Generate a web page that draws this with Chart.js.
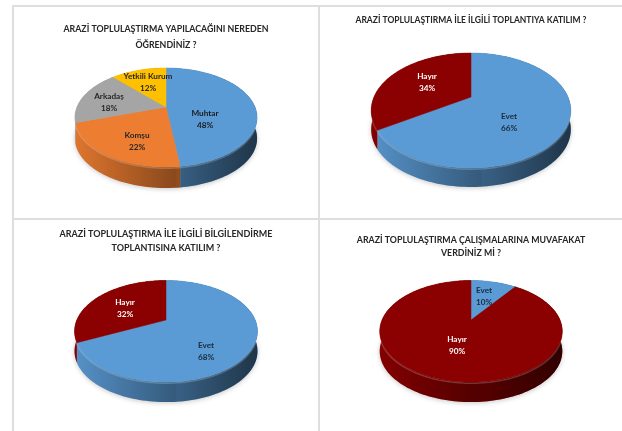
<!DOCTYPE html>
<html>
<head>
<meta charset="utf-8">
<script src="https://cdn.jsdelivr.net/npm/chart.js@4"></script>
<style>
  body { margin: 0; background: #fff; width: 622px; height: 431px; overflow: hidden; position: relative; }
  canvas { position: absolute; filter: blur(0.45px); }
  .rule { position: absolute; background: #dedede; }
</style>
</head>
<body>
<div class="rule" style="left:12px;top:5px;width:610px;height:2px"></div>
<div class="rule" style="left:12px;top:218px;width:610px;height:2px"></div>
<div class="rule" style="left:12px;top:5px;width:2px;height:426px"></div>
<div class="rule" style="left:318px;top:5px;width:2px;height:426px"></div>
<canvas id="pie1" width="304" height="211" style="left:14px;top:7px"></canvas>
<canvas id="pie2" width="302" height="211" style="left:320px;top:7px"></canvas>
<canvas id="pie3" width="304" height="211" style="left:14px;top:220px"></canvas>
<canvas id="pie4" width="302" height="211" style="left:320px;top:220px"></canvas>
<script>
const blue = '#5B9BD5';
const orange = '#ED7D31';
const grey = '#A5A5A5';
const yellow = '#FFC000';
const darkRed = '#8B0000';

const sourceLabels = ['Muhtar', 'Komşu', 'Arkadaş', 'Yetkili Kurum'];
const sourceValues = [48, 22, 18, 12];
const meetingLabels = ['Evet', 'Hayır'];
const meetingValues = [66, 34];
const briefingLabels = ['Evet', 'Hayır'];
const briefingValues = [68, 32];
const consentLabels = ['Evet', 'Hayır'];
const consentValues = [10, 90];

const sourceTitle = ['ARAZİ TOPLULAŞTIRMA YAPILACAĞINI NEREDEN', 'ÖĞRENDİNİZ ?'];
const meetingTitle = ['ARAZİ TOPLULAŞTIRMA İLE İLGİLİ TOPLANTIYA KATILIM ?'];
const briefingTitle = ['ARAZİ TOPLULAŞTIRMA İLE İLGİLİ BİLGİLENDİRME', 'TOPLANTISINA KATILIM ?'];
const consentTitle = ['ARAZİ TOPLULAŞTIRMA ÇALIŞMALARINA MUVAFAKAT', 'VERDİNİZ Mİ ?'];

const fontName = 'Lato';

// perspective tilt of the pie: a, b are the radii, k the tilt, depth the side wall
function rimPoint(shape, angle) {
  const u = Math.cos(angle);
  const v = Math.sin(angle);
  const w = 1 - shape.k * v;
  return { x: shape.cx + shape.a * u / w, y: shape.cy + shape.b * v / w };
}

function traceRim(ctx, shape, from, to, shift) {
  const steps = Math.max(2, Math.ceil(Math.abs(to - from) / 0.03));
  for (let i = 0; i <= steps; i++) {
    const p = rimPoint(shape, from + (to - from) * i / steps);
    ctx.lineTo(p.x, p.y + shift);
  }
}

const pie3d = {
  id: 'pie3d',
  beforeDatasetDraw(chart, args, opts) {
    const ctx = chart.ctx;
    const shape = opts.shape;
    const arcs = chart.getDatasetMeta(0).data;
    const colors = chart.data.datasets[0].backgroundColor;
    const left = shape.cx - shape.a * 1.03;
    const right = shape.cx + shape.a * 1.03;

    // soft shadow under the pie
    ctx.save();
    ctx.shadowColor = 'rgba(0,0,0,0.22)';
    ctx.shadowBlur = 5;
    ctx.shadowOffsetY = 2;
    ctx.fillStyle = '#bbb';
    ctx.beginPath();
    traceRim(ctx, shape, 0, Math.PI * 2, shape.depth - 1);
    ctx.fill();
    ctx.restore();

    // side wall
    const shade = ctx.createLinearGradient(left, 0, right, 0);
    shade.addColorStop(0, 'rgba(0,0,0,0.06)');
    shade.addColorStop(0.55, 'rgba(0,0,0,0.42)');
    shade.addColorStop(0.56, 'rgba(0,0,0,0.38)');
    shade.addColorStop(1, 'rgba(0,0,0,0.66)');
    arcs.forEach(function(arc, i) {
      ctx.beginPath();
      traceRim(ctx, shape, arc.startAngle, arc.endAngle, 0);
      traceRim(ctx, shape, arc.endAngle, arc.startAngle, shape.depth);
      ctx.closePath();
      ctx.fillStyle = colors[i];
      ctx.fill();
      ctx.fillStyle = shade;
      ctx.fill();
    });

    // light bevel under the top face
    ctx.beginPath();
    traceRim(ctx, shape, 0, Math.PI * 2, 1.2);
    ctx.strokeStyle = 'rgba(255,255,255,0.2)';
    ctx.lineWidth = 1.5;
    ctx.stroke();

    // top face
    arcs.forEach(function(arc, i) {
      ctx.beginPath();
      ctx.moveTo(shape.cx, shape.cy);
      traceRim(ctx, shape, arc.startAngle, arc.endAngle, 0);
      ctx.closePath();
      ctx.fillStyle = colors[i];
      ctx.strokeStyle = colors[i];
      ctx.lineWidth = 0.5;
      ctx.fill();
      ctx.stroke();
    });
    return false;
  },
  afterDatasetsDraw(chart, args, opts) {
    const ctx = chart.ctx;
    const labels = chart.data.labels;
    const values = chart.data.datasets[0].data;
    ctx.save();
    ctx.font = 'bold 8.2px ' + fontName;
    ctx.textAlign = 'center';
    ctx.textBaseline = 'middle';
    labels.forEach(function(label, i) {
      const at = opts.labelAt[i];
      ctx.fillStyle = opts.labelColor[i];
      ctx.fillText(label, at[0], at[1]);
      ctx.fillText(values[i] + '%', at[0], at[1] + 12);
    });
    ctx.restore();
  }
};

function createPie(id, labels, values, colors, title, titleSize, titleTop, titleLine, shape, labelAt, labelColor) {
  return new Chart(document.getElementById(id), {
    type: 'pie',
    data: {
      labels: labels,
      datasets: [{ data: values, backgroundColor: colors, borderWidth: 0 }],
    },
    options: {
      responsive: false,
      animation: false,
      plugins: {
        legend: { display: false },
        tooltip: { enabled: false },
        title: {
          display: true,
          text: title,
          color: '#262626',
          font: { family: fontName, size: titleSize, weight: 'bold', lineHeight: titleLine },
          padding: { top: titleTop, bottom: 4 },
        },
        pie3d: { shape: shape, labelAt: labelAt, labelColor: labelColor },
      },
    },
    plugins: [pie3d],
  });
}

createPie('pie1', sourceLabels, sourceValues, [blue, orange, grey, yellow], sourceTitle, 8.8, 14, 1.82,
  { cx: 152, cy: 100, a: 89, b: 47.3, k: 0.212, depth: 21 },
  [[191, 106], [123, 128], [95, 89], [134, 69]], ['#1a1a1a', '#262626', '#262626', '#262626']);

createPie('pie2', meetingLabels, meetingValues, [blue, darkRed], meetingTitle, 8.5, 6.5, 1.5,
  { cx: 151, cy: 90, a: 97, b: 54.3, k: 0.235, depth: 19 },
  [[189, 109], [107, 69]], ['#1a2a3a', '#ffffff']);

createPie('pie3', briefingLabels, briefingValues, [blue, darkRed], briefingTitle, 9, 7, 1.55,
  { cx: 152, cy: 100, a: 89.2, b: 48.3, k: 0.222, depth: 20 },
  [[192, 125], [111, 82]], ['#1a2a3a', '#ffffff']);

createPie('pie4', consentLabels, consentValues, [blue, darkRed], consentTitle, 8.8, 13.5, 1.48,
  { cx: 151, cy: 100, a: 89, b: 48.3, k: 0.222, depth: 20 },
  [[164, 70], [137, 119]], ['#1a2a3a', '#ffffff']);
</script>
</body>
</html>
